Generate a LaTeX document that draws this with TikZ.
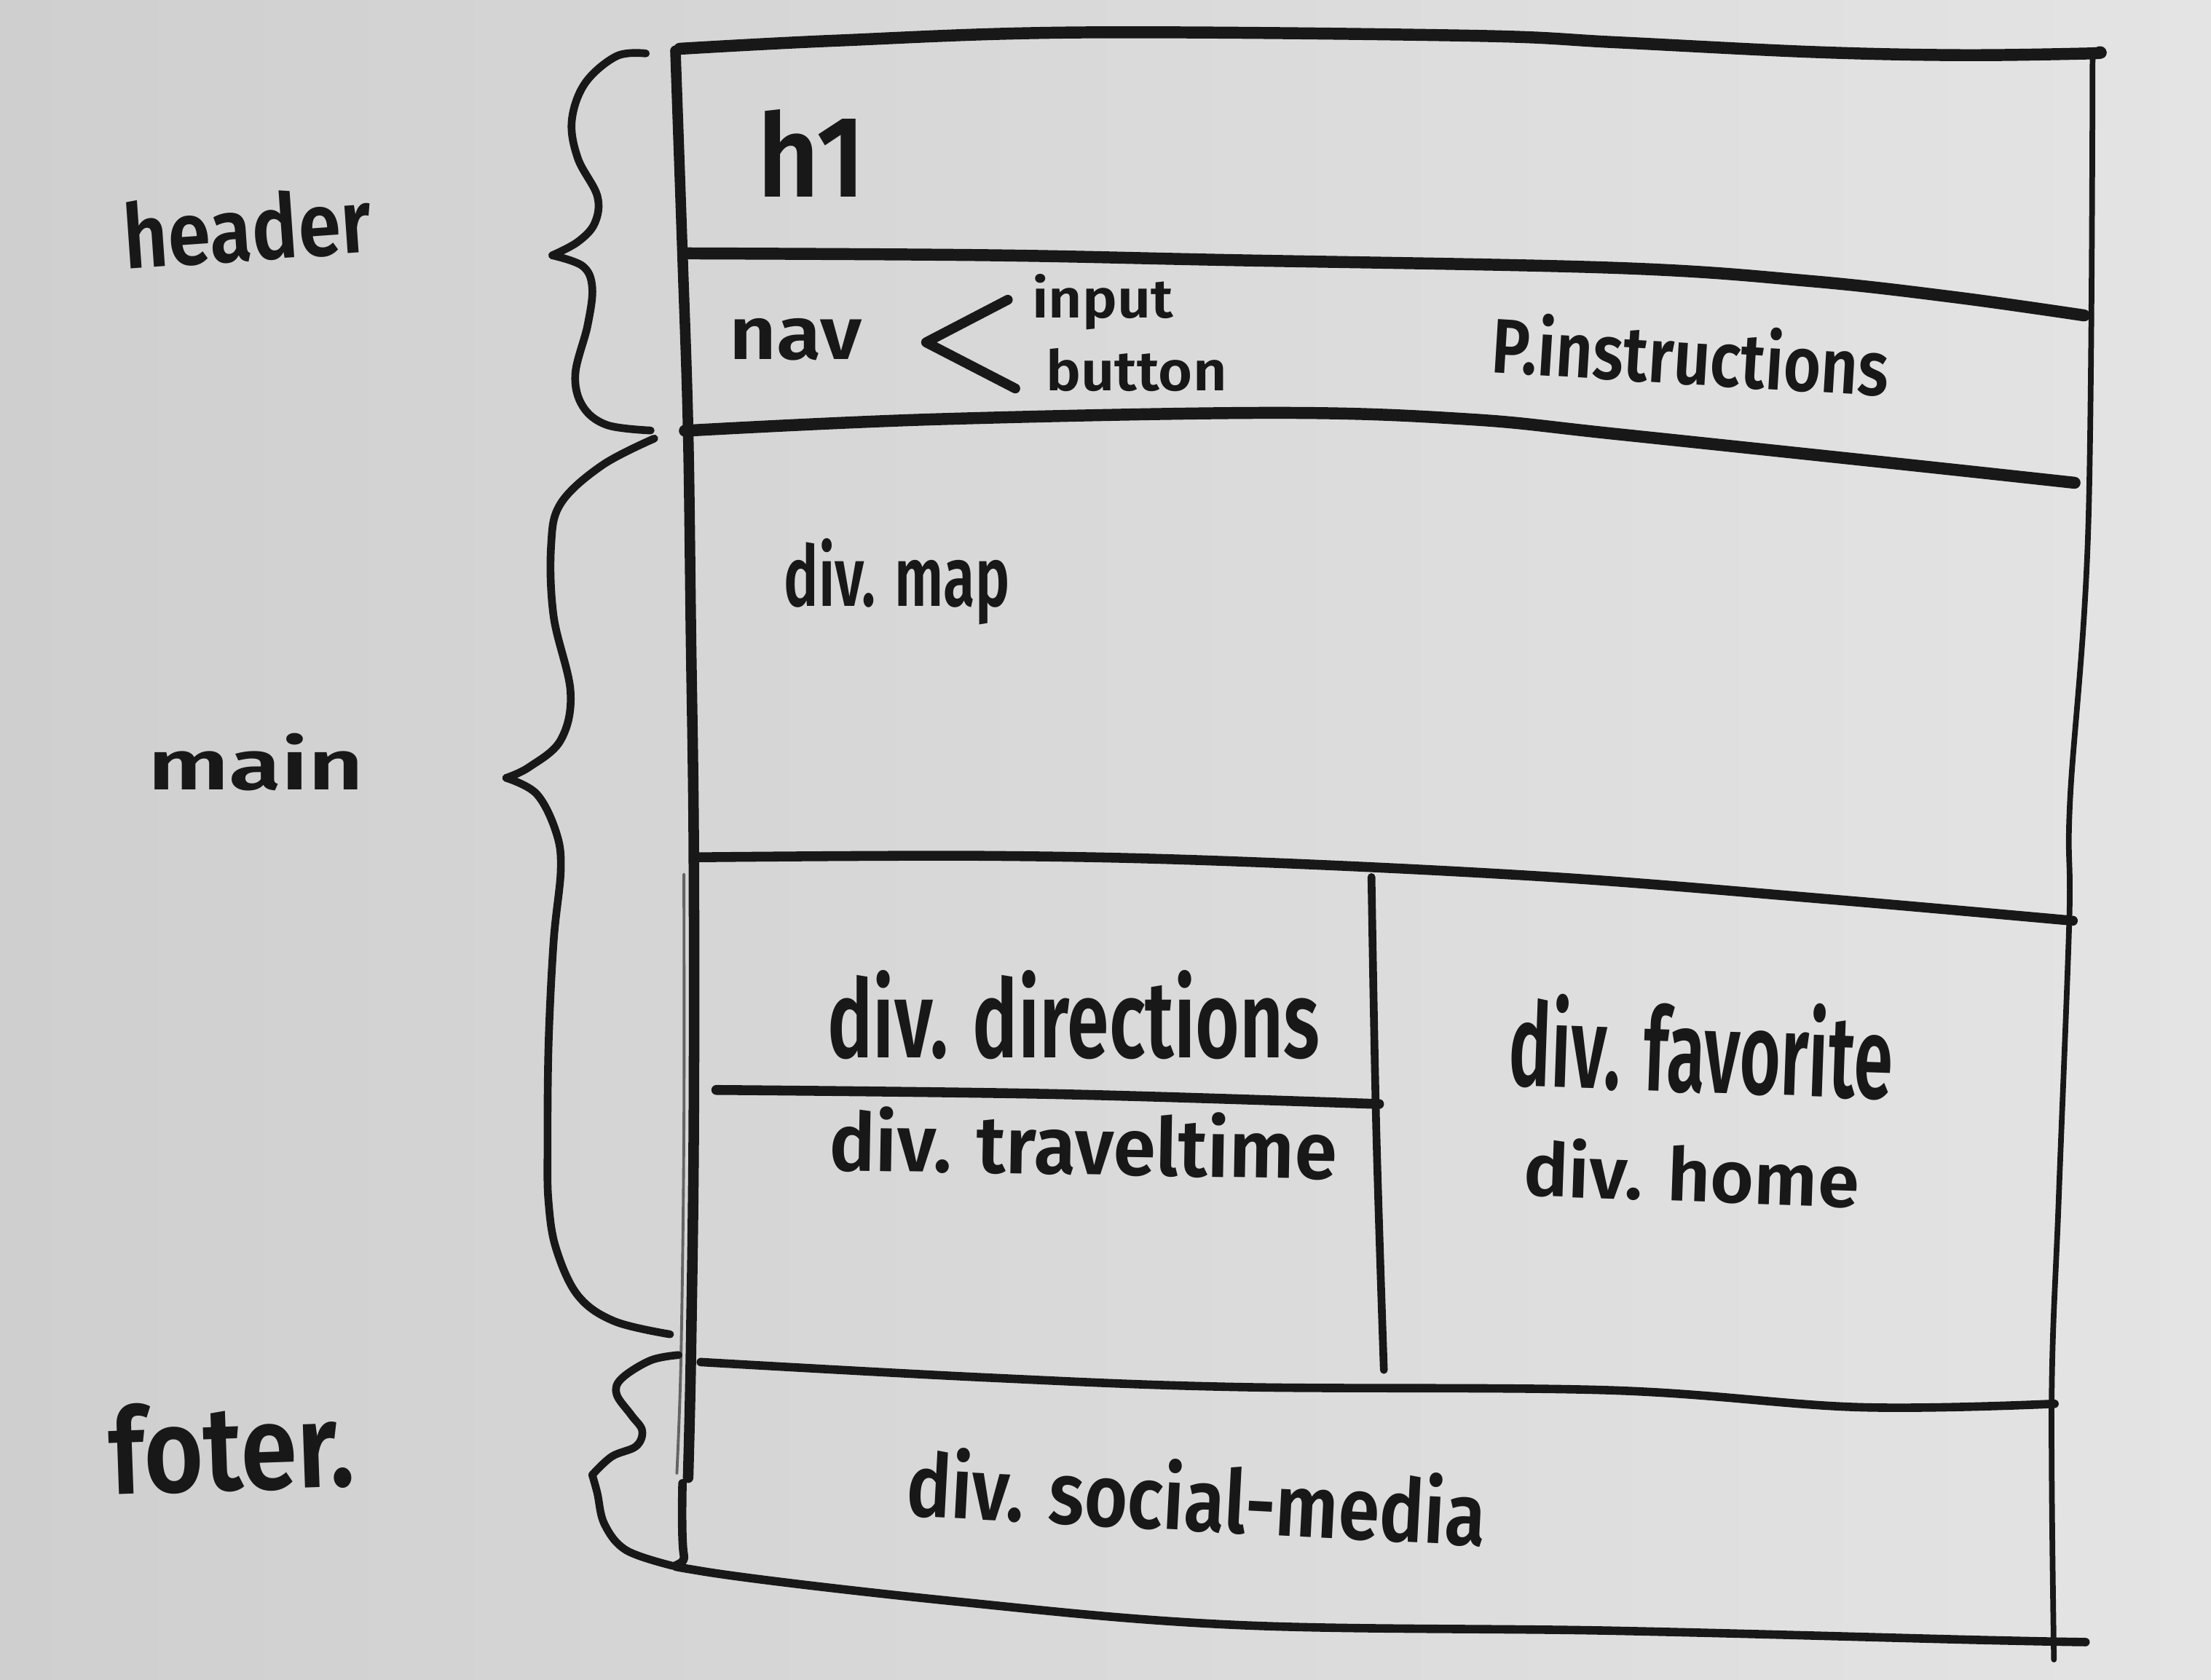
\documentclass[tikz,border=0pt]{standalone}
\usepackage{fontspec}
\setmainfont{Fira Sans}[UprightFont=* SemiBold]
\usepackage{graphicx}
\definecolor{inkc}{RGB}{24,24,24}
\definecolor{boardL}{RGB}{207,207,207}
\definecolor{boardR}{RGB}{228,228,228}
% text squeezed to a given width and height (in pt)
\newcommand{\hw}[3]{\resizebox{#1pt}{#2pt}{#3}}
\tikzset{
  ink/.style={draw=inkc, line cap=round, line join=round},
  heavy/.style={ink, line width=8.5},
  medium/.style={ink, line width=7},
  bracestroke/.style={ink, line width=5.5},
  lbl/.style={inner sep=0pt, outer sep=0pt, text=inkc, anchor=base west},
}
\begin{document}
\begin{tikzpicture}[x=1pt, y=-1pt]
% whiteboard
\shade[left color=boardL, right color=boardR] (0,0) rectangle (1568,1191);
\useasboundingbox (0,0) rectangle (1568,1191);

% ---- outer frame ----
% top edge
\draw[heavy] plot[smooth, tension=0.6] coordinates {(482,34.6) (593,28.8) (766,23) (1042,25.3) (1146,30) (1284,36.8) (1388,39.1) (1478,38) (1489,37)};
% left edge
\draw[ink, line width=7.5] plot[smooth, tension=0.6] coordinates {(479,36) (484,180) (488,305) (490,450) (492,600) (492,800) (490,960) (488,1048)};
\draw[ink, line width=2, draw opacity=0.6] plot[smooth, tension=0.6] coordinates {(485,620) (485,800) (483,960) (480,1045)};
% right edge
\draw[ink, line width=4] plot[smooth, tension=0.6] coordinates {(1484,38) (1481,372) (1468,568) (1467.5,652) (1460,850) (1455,990) (1456.6,1177)};
% bottom-left corner and bottom edge
\draw[ink, line width=6] plot[smooth, tension=0.6] coordinates {(484,1052) (485,1103) (496,1114) (680,1136) (878,1152.5) (1142,1156.5) (1400,1163) (1479,1164.6)};

% ---- section dividers ----
\draw[heavy] plot[smooth, tension=0.6] coordinates {(485.7,179.7) (700,181) (869.5,184.4) (1146,190) (1284.5,199.4) (1388,211) (1478,223.7)};
\draw[heavy] plot[smooth, tension=0.6] coordinates {(485.7,305.5) (662,297.4) (904,292.8) (1042.4,297.4) (1146,307.8) (1353.7,329.7) (1471.2,342.4)};
\draw[medium] plot[smooth, tension=0.6] coordinates {(494,608) (700,607) (878,611) (1100,622) (1300,638) (1470,653)};
\draw[medium] plot[smooth, tension=0.6] coordinates {(508,773) (750,776) (978,783)};
\draw[ink, line width=5.5] plot[smooth, tension=0.6] coordinates {(972.6,622) (976,800) (981.4,971.6)};
\draw[ink, line width=6] plot[smooth, tension=0.6] coordinates {(497,966) (700,977) (878,983.7) (1142,986) (1318,998) (1457,995.6)};

% ---- braces ----
% header
\draw[bracestroke] plot[smooth, tension=0.6] coordinates {(458,37.9) (437.3,39.8) (415,58.9) (405.5,85.6) (409.8,112.3) (423.6,139) (421.8,158.2) (409.8,171.5) (391.7,181.1)};
\draw[bracestroke] plot[smooth, tension=0.6] coordinates {(391.7,181.1) (413.2,188.7) (420,204) (416.7,230.8) (408,265.2) (413.2,288) (430.4,301.4) (461.4,305.3)};
% main
\draw[bracestroke] plot[smooth, tension=0.6] coordinates {(464,311) (427,330) (397.7,357) (390.8,387.4) (392.6,437) (404.6,490.6) (397.7,524.8) (375.3,544) (359,551.7)};
\draw[bracestroke] plot[smooth, tension=0.6] coordinates {(359,551.7) (380.5,563) (394.3,590) (397.7,616.7) (392.6,667.8) (389,741.6) (388.3,815.4) (389,852.3) (394.3,885.3) (409.8,918.7) (435.6,937) (475.2,946.3)};
% footer
\draw[bracestroke] plot[smooth, tension=0.6] coordinates {(481.2,961) (461.4,964.8) (440.8,977.7) (437.3,988.8) (447.7,1003.6) (455.4,1014.6) (451.1,1025.7) (433.9,1033) (420,1046)};
\draw[bracestroke] plot[smooth, tension=0.6] coordinates {(420,1046) (423.6,1058.9) (428.7,1081) (444.2,1099.5) (477,1110.5)};

% ---- nav bracket ----
\coordinate (chevTop) at (714.7,212.6);
\coordinate (chevTip) at (656.7,242.8);
\coordinate (chevBot) at (720,275.5);
\draw[ink, line width=7] (chevTop) -- (chevTip) -- (chevBot);

% ---- labels ----
\node[lbl, rotate=4] (header) at (89,191) {\hw{176}{48}{header}};
\node[lbl] (main) at (105,560) {\hw{153}{40}{main}};
\node[lbl, rotate=2] (footer) at (78,1060) {\hw{174}{64}{foter.}};
\node[lbl] (h1) at (537.5,139.5) {\hw{76}{62}{h1}};
\node[lbl] (nav) at (517,255) {\hw{94}{29}{nav}};
\node[lbl] (input) at (732,225.5) {\hw{100}{31}{input}};
\node[lbl] (button) at (742,277) {\hw{128}{30}{button}};
\node[lbl, rotate=-3.5] (instr) at (1057,264) {\hw{282}{44}{P.instructions}};
\node[lbl] (map) at (556,430) {\hw{160}{48}{div. map}};
\node[lbl] (directions) at (587,750) {\hw{349}{62}{div. directions}};
\node[lbl, rotate=-1] (traveltime) at (588,830) {\hw{360}{46}{div. traveltime}};
\node[lbl, rotate=-2] (favorite) at (1069.5,770) {\hw{272}{66}{div. favorite}};
\node[lbl, rotate=-2] (home) at (1080,848) {\hw{238}{42}{div. home}};
\node[lbl, rotate=-3] (social) at (642,1075) {\hw{411}{50}{div. social-media}};
\end{tikzpicture}
\end{document}
